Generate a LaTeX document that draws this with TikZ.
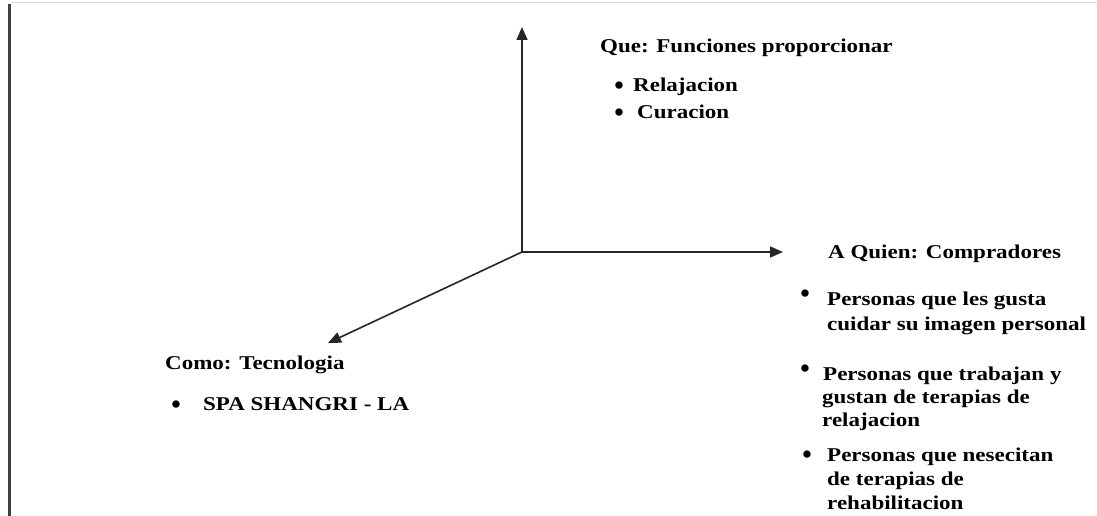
\documentclass[tikz,border=0pt]{standalone}
\usepackage{fontspec}
\setmainfont{Liberation Serif}
\usetikzlibrary{arrows.meta,positioning}

\newcommand{\sq}[1]{\scalebox{1}[0.85]{#1}}

\tikzset{%
  rotulo/.style={anchor=base west, inner sep=0pt, font=\fontsize{23}{23}\selectfont\bfseries},
  vineta/.style={anchor=base, inner sep=0pt, font=\fontsize{27}{27}\selectfont\bfseries},
  eje/.style={draw, line width=1.6pt, color=black!85, -{Triangle[length=13pt,width=11pt]}},
  borde/.style={draw, line width=3pt, color=black!75},
}

\begin{document}
\begin{tikzpicture}[x=1pt,y=-1pt]
\useasboundingbox (0,0) rectangle (1097,516);
\draw[color=black!12, line width=1pt] (11,3) -- (1097,3);
\draw[borde] (9.5,4) -- (9.5,516);

\coordinate (o) at (522,252);
\coordinate (arr) at (522,27);
\coordinate (der) at (783,252);
\coordinate (izq) at (328,343);
\draw[eje] (o) -- (arr);
\draw[eje] (o) -- (der);
\draw[eje] (o) -- (izq);

% Que
\node[rotulo] (que) at (600,53) {\sq{Que: Funciones proporcionar}};
\node[vineta] (v1) at (619,95) {•};
\node[rotulo] (relaj) at (633,92) {\sq{Relajacion}};
\node[vineta] (v2) at (619,122) {•};
\node[rotulo] (curac) at (637,119) {\sq{Curacion}};

% A quien
\node[rotulo] (aquien) at (828,258) {\sq{A Quien: Compradores}};
\node[vineta] (v3) at (805,302) {•};
\node[rotulo] (p1a) at (827,305) {\sq{Personas que les gusta}};
\node[rotulo] (p1b) at (827,330) {\sq{cuidar su imagen personal}};
\node[vineta] (v4) at (805,377) {•};
\node[rotulo] (p2a) at (823,380) {\sq{Personas que trabajan y}};
\node[rotulo] (p2b) at (822,403) {\sq{gustan de terapias de}};
\node[rotulo] (p2c) at (822,426) {\sq{relajacion}};
\node[vineta] (v5) at (807,463) {•};
\node[rotulo] (p3a) at (827,461) {\sq{Personas que nesecitan}};
\node[rotulo] (p3b) at (827,485) {\sq{de terapias de}};
\node[rotulo] (p3c) at (827,509) {\sq{rehabilitacion}};

% Como
\node[rotulo] (como) at (165,369) {\sq{Como: Tecnologia}};
\node[vineta] (v6) at (176,413) {•};
\node[rotulo] (spa) at (203,410) {\sq{SPA SHANGRI - LA}};
\end{tikzpicture}
\end{document}
